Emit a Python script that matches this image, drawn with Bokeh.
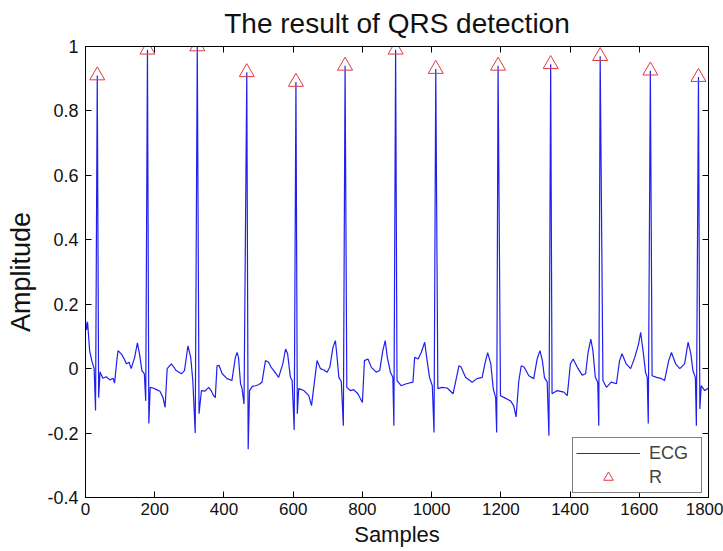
from bokeh.plotting import figure
from bokeh.models import (LinearAxis, Range1d, FixedTicker, CustomJSTickFormatter,
                          Legend, LegendItem, ColumnDataSource)
from bokeh.embed import file_html
from bokeh.resources import INLINE

# ---- data ----
ecg_samples = [
    0, 3, 6, 9, 12, 18, 25, 29, 34, 38, 42, 50, 60, 70, 80, 84, 90, 94, 104, 112,
    118, 126, 132, 142, 150, 156, 163, 170, 174, 179, 183, 187, 195, 205, 215, 224,
    230, 236, 248, 255, 262, 277, 286, 292, 296, 304, 310, 317, 323, 328, 335, 345,
    356, 364, 370, 375, 380, 386, 395, 409, 423, 433, 438, 442, 448, 452, 458, 466,
    470, 474, 482, 491, 500, 510, 520, 529, 536, 544, 558, 570, 578, 584, 592, 597,
    603, 608, 612, 616, 631, 645, 653, 663, 669, 679, 690, 698, 706, 715, 722, 726,
    732, 739, 745, 750, 755, 765, 775, 787, 800, 806, 816, 826, 840, 850, 859, 866,
    872, 881, 888, 891, 896, 900, 912, 927, 946, 951, 961, 970, 980, 987, 994, 1002,
    1007, 1012, 1018, 1030, 1045, 1062, 1072, 1079, 1085, 1098, 1117, 1131, 1146,
    1155, 1162, 1171, 1178, 1185, 1188, 1192, 1199, 1210, 1228, 1237, 1244, 1252,
    1259, 1267, 1281, 1295, 1305, 1313, 1320, 1326, 1334, 1339, 1344, 1348, 1363,
    1382, 1392, 1401, 1409, 1421, 1435, 1445, 1452, 1460, 1466, 1473, 1480, 1483,
    1487, 1495, 1505, 1519, 1534, 1543, 1550, 1562, 1575, 1587, 1598, 1604, 1612,
    1618, 1623, 1626, 1632, 1637, 1650, 1662, 1673, 1685, 1693, 1705, 1717, 1731,
    1741, 1749, 1755, 1762, 1765, 1771, 1775, 1779, 1789, 1800,
]
ecg_amplitude = [
    0.15, 0.12, 0.145, 0.10, 0.056, 0.025, 0.0, -0.13, 0.91, -0.09, -0.01, -0.03,
    -0.025, -0.035, -0.03, -0.045, 0.02, 0.056, 0.045, 0.03, 0.015, 0.02, 0.0, 0.035,
    0.08, 0.046, -0.006, -0.016, -0.10, 0.99, -0.17, -0.058, -0.06, -0.065, -0.07,
    -0.09, -0.12, 0.0, 0.015, 0.005, -0.006, -0.016, -0.006, 0.04, 0.071, 0.035,
    -0.037, -0.2, 1.0, -0.14, -0.068, -0.07, -0.058, -0.07, -0.084, -0.09, 0.009,
    0.01, -0.016, -0.031, -0.037, 0.035, 0.05, 0.035, -0.047, -0.06, -0.11, 0.92,
    -0.25, -0.068, -0.055, -0.053, -0.05, -0.042, 0.025, 0.02, 0.005, -0.006, -0.027,
    0.015, 0.061, 0.046, -0.027, -0.037, -0.19, 0.89, -0.14, -0.062, -0.068, -0.084,
    -0.115, -0.027, 0.025, 0.0, -0.005, -0.011, 0.005, 0.066, 0.087, 0.046, -0.027,
    -0.04, -0.177, 0.94, -0.058, -0.068, -0.065, -0.078, -0.105, 0.025, 0.03, 0.004,
    -0.011, -0.006, 0.056, 0.087, 0.035, -0.011, -0.027, -0.177, 0.99, -0.037,
    -0.053, -0.047, -0.042, 0.035, 0.03, 0.05, 0.082, 0.025, -0.027, -0.053, -0.198,
    0.93, -0.062, -0.058, -0.06, -0.078, -0.027, 0.009, 0.005, -0.027, -0.042,
    -0.031, -0.027, 0.02, 0.05, 0.015, -0.062, -0.09, -0.198, 0.94, -0.084, -0.09,
    -0.1, -0.115, -0.15, -0.037, 0.009, 0.005, -0.022, -0.031, 0.03, 0.056, 0.025,
    -0.027, -0.042, -0.208, 0.945, -0.078, -0.068, -0.073, -0.084, 0.015, 0.03,
    0.004, -0.02, -0.016, 0.05, 0.092, 0.056, -0.027, -0.042, -0.177, 0.97, -0.037,
    -0.058, -0.042, -0.047, 0.025, 0.046, 0.015, 0.0, 0.035, 0.077, 0.113, 0.046,
    -0.011, -0.027, -0.17, 0.925, -0.022, -0.027, -0.03, -0.037, 0.025, 0.05, 0.015,
    0.0, 0.015, 0.082, 0.046, -0.006, -0.027, -0.177, 0.905, -0.125, -0.053, -0.068,
    -0.06,
]
r_samples = [34, 179, 323, 466, 608, 750, 896, 1012, 1192, 1344, 1487, 1632, 1771]
r_amplitude = [0.91, 0.99, 1.0, 0.92, 0.89, 0.94, 0.99, 0.93, 0.94, 0.945, 0.97, 0.925, 0.905]

x_ticks = [0, 200, 400, 600, 800, 1000, 1200, 1400, 1600, 1800]
y_ticks = [-0.4, -0.2, 0, 0.2, 0.4, 0.6, 0.8, 1]

title_text = "The result of QRS detection"
x_label = "Samples"
y_label = "Amplitude"
legend_labels = ["ECG", "R"]

FONT = "Liberation Sans"

p = figure(width=723, height=551, output_backend="svg", toolbar_location=None,
           x_range=Range1d(0, 1800), y_range=Range1d(-0.4, 1),
           min_border_left=85, min_border_right=15, min_border_top=46,
           min_border_bottom=54, background_fill_color="white",
           border_fill_color="white")

p.title.text = title_text
p.title.align = "center"
p.title.vertical_align = "top"
p.title.text_font = FONT
p.title.text_font_size = "28px"
p.title.text_font_style = "normal"
p.title.text_color = "#111111"
p.title.standoff = 12

p.xgrid.visible = False
p.ygrid.visible = False
p.outline_line_color = "black"

fmt = CustomJSTickFormatter(code="return String(Math.round(tick*10)/10);")

def style_axis(ax, show_labels):
    ax.axis_line_color = "black"
    ax.major_tick_in = 6
    ax.major_tick_out = 0
    ax.minor_tick_line_color = None
    ax.major_tick_line_color = "black"
    ax.major_label_text_font = FONT
    if show_labels:
        ax.major_label_text_color = "#111111"
        ax.major_label_text_font_size = "18px"
    else:
        ax.major_label_text_color = None
        ax.major_label_text_font_size = "1px"
        ax.major_label_standoff = 0

xa = p.xaxis[0]
xa.ticker = FixedTicker(ticks=x_ticks)
style_axis(xa, True)
xa.major_label_text_font_size = "17px"
xa.major_label_standoff = 5
xa.axis_label = x_label
xa.axis_label_text_font = FONT
xa.axis_label_text_font_size = "22px"
xa.axis_label_text_font_style = "normal"
xa.axis_label_text_color = "#111111"
xa.axis_label_standoff = 4

ya = p.yaxis[0]
ya.ticker = FixedTicker(ticks=y_ticks)
ya.formatter = fmt
style_axis(ya, True)
ya.major_label_standoff = 7
ya.axis_label = y_label
ya.axis_label_text_font = FONT
ya.axis_label_text_font_size = "27px"
ya.axis_label_text_font_style = "normal"
ya.axis_label_text_color = "#111111"
ya.axis_label_standoff = 8

top = LinearAxis(ticker=FixedTicker(ticks=x_ticks))
style_axis(top, False)
p.add_layout(top, "above")
right = LinearAxis(ticker=FixedTicker(ticks=y_ticks))
style_axis(right, False)
p.add_layout(right, "right")

ecg_src = ColumnDataSource(dict(x=ecg_samples, y=ecg_amplitude))
r_src = ColumnDataSource(dict(x=r_samples, y=r_amplitude))

ecg_line = p.line("x", "y", source=ecg_src, line_color="#1f1fee", line_width=1.2)
r_marks = p.scatter("x", "y", source=r_src, marker="triangle", size=15,
                    line_color="#e03a44", fill_color=None, line_width=1)

legend = Legend(items=[LegendItem(label=legend_labels[0], renderers=[ecg_line]),
                       LegendItem(label=legend_labels[1], renderers=[r_marks])],
                location=(487, 4), margin=0, padding=3, spacing=0,
                glyph_width=64, glyph_height=24, label_height=20, label_width=49,
                label_standoff=9,
                label_text_font=FONT, label_text_font_size="18px",
                border_line_color="black", border_line_width=1,
                background_fill_color="white", background_fill_alpha=1)
p.add_layout(legend, "center")

open("out.html", "w").write(file_html(p, INLINE))
